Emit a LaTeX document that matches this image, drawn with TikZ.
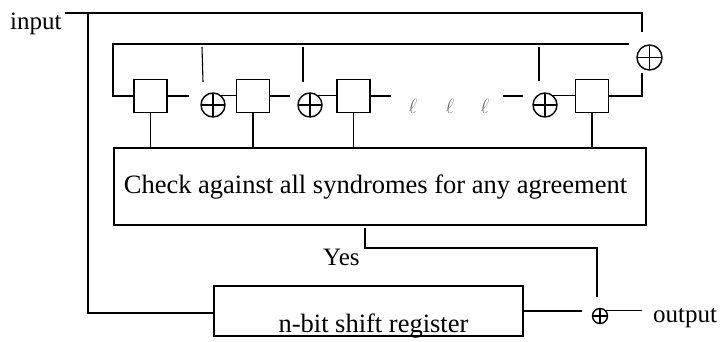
\documentclass[tikz,border=0pt]{standalone}
\usepackage{fontspec}
\setmainfont{Liberation Serif}
\begin{document}
\begin{tikzpicture}[x=1pt,y=-1pt]
\tikzset{
 wire/.style={line width=1.1pt},
 reg/.style={draw, line width=1.1pt, minimum width=33pt, minimum height=33pt, inner sep=0},
 xorg/.style={circle, draw, line width=1.4pt, inner sep=0, minimum size=#1,
   path picture={\draw[line width=1.2pt] (path picture bounding box.north) -- (path picture bounding box.south)
     (path picture bounding box.west) -- (path picture bounding box.east);}},
 xorg/.default=24pt,
 bigbox/.style={draw, line width=1.1pt, inner sep=0, font=\fontsize{26.5}{30}\selectfont},
 lbl/.style={inner sep=0, font=\fontsize{25}{28}\selectfont},
 dotl/.style={inner sep=0, text=black!55, font=\fontsize{20}{24}\selectfont},
}
\useasboundingbox (0,0) rectangle (723,341);
% registers
\node[reg] (b1) at (150.5,96) {};
\node[reg] (b2) at (253,96) {};
\node[reg] (b3) at (353.5,96) {};
\node[reg] (b4) at (592,96) {};
% adders
\node[xorg] (x1) at (213,105) {};
\node[xorg] (x2) at (310,105) {};
\node[xorg] (x3) at (545,105) {};
\node[xorg=25pt] (x4) at (649.5,57.5) {};
\node[xorg=15pt] (xo) at (600,316) {};
% big boxes
\node[bigbox, minimum width=532pt, text height=45pt, text depth=32pt] (chk) at (380,186.5) {\hspace*{-9pt}Check against all syndromes for any agreement};
\node[bigbox, minimum width=309pt, text height=46pt, text depth=4pt] (sr) at (368.5,311) {\hspace*{10pt}n-bit shift register};
% labels
\node[lbl, anchor=base west] (in) at (10,29) {input};
\node[lbl, anchor=base west] (out) at (653,322) {output};
\node[lbl, anchor=base west] (yes) at (323,265) {Yes};
\node[dotl, anchor=base] (l1) at (413,113) {$\ell$};
\node[dotl, anchor=base] (l2) at (450,113) {$\ell$};
\node[dotl, anchor=base] (l3) at (485,113) {$\ell$};
% coordinates
\coordinate (tin) at (65,13);
\coordinate (tap) at (88,13);
\coordinate (topR) at (642,32);
\coordinate (busL) at (113,44);
\coordinate (busR) at (629,44);
\coordinate (e1) at (189,96);
\coordinate (e2) at (290,96);
\coordinate (e3) at (391,96);
\coordinate (d1) at (503,96);
\coordinate (d2) at (523,96);
\coordinate (f4) at (642,73);
\coordinate (v1a) at (202,47); \coordinate (v1b) at (203,82);
\coordinate (v2a) at (303,47); \coordinate (v2b) at (303,82);
\coordinate (v3a) at (539,47); \coordinate (v3b) at (539,81);
\coordinate (ya) at (365,228); \coordinate (yc) at (365,248); \coordinate (yb) at (597,297);
\coordinate (o1) at (582,311); \coordinate (o2) at (642,311);
% wires
\draw[wire] (tin) -| (topR);
\draw[wire] (tap) |- ([yshift=-2pt]sr.west);
\draw[wire] (busR) -- (busL) |- (b1.west);
\draw[wire] (b1.east) -- (e1);
\draw[wire] (x1.49) -- (x1.49 -| b2.west);
\draw[wire] (b2.east) -- (e2);
\draw[wire] (x2.49) -- (x2.49 -| b3.west);
\draw[wire] (b3.east) -- (e3);
\draw[wire] (d1) -- (d2);
\draw[wire] (x3.49) -- (x3.49 -| b4.west);
\draw[wire] (b4.east) -| (f4);
\draw[wire] (v1a) -- (v1b);
\draw[wire] (v2a) -- (v2b);
\draw[wire] (v3a) -- (v3b);
\foreach \b in {b1,b2,b3,b4} \draw[wire] (\b.south) -- (\b.south |- chk.north);
\draw[wire] (ya) -- (yc) -| (yb);
\draw[wire] (sr.east) -- (o1);
\draw[wire] (xo.42) -- (xo.42 -| o2);
\end{tikzpicture}
\end{document}
